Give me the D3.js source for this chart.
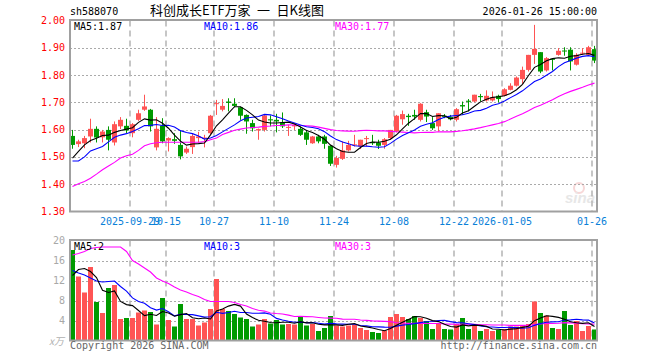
<!DOCTYPE html>
<html>
<head>
<meta charset="utf-8">
<script src="https://cdn.jsdelivr.net/npm/d3@7"></script>
<style>
  body { margin: 0; background: #fff; }
  text { font-family: "DejaVu Sans Mono", monospace; font-size: 10px; }
</style>
</head>
<body>
<script>
// trading days shown, 2025-09-15 .. 2026-01-26
const dates = [
  '2025-09-15','2025-09-16','2025-09-17','2025-09-18','2025-09-19','2025-09-22','2025-09-23','2025-09-24','2025-09-25','2025-09-26',
  '2025-09-29','2025-09-30','2025-10-09','2025-10-10','2025-10-13','2025-10-14','2025-10-15','2025-10-16','2025-10-17','2025-10-20',
  '2025-10-21','2025-10-22','2025-10-23','2025-10-24','2025-10-27','2025-10-28','2025-10-29','2025-10-30','2025-10-31','2025-11-03',
  '2025-11-04','2025-11-05','2025-11-06','2025-11-07','2025-11-10','2025-11-11','2025-11-12','2025-11-13','2025-11-14','2025-11-17',
  '2025-11-18','2025-11-19','2025-11-20','2025-11-21','2025-11-24','2025-11-25','2025-11-26','2025-11-27','2025-11-28','2025-12-01',
  '2025-12-02','2025-12-03','2025-12-04','2025-12-05','2025-12-08','2025-12-09','2025-12-10','2025-12-11','2025-12-12','2025-12-15',
  '2025-12-16','2025-12-17','2025-12-18','2025-12-19','2025-12-22','2025-12-23','2025-12-24','2025-12-25','2025-12-26','2025-12-29',
  '2025-12-30','2025-12-31','2026-01-05','2026-01-06','2026-01-07','2026-01-08','2026-01-09','2026-01-12','2026-01-13','2026-01-14',
  '2026-01-15','2026-01-16','2026-01-19','2026-01-20','2026-01-21','2026-01-22','2026-01-23','2026-01-26'
]
const open = [
  1.577,1.547,1.550,1.575,1.603,1.572,1.599,1.553,1.612,1.614,
  1.587,1.636,1.673,1.673,1.535,1.615,1.560,1.565,1.544,1.516,
  1.536,1.569,1.566,1.587,1.695,1.673,1.703,1.695,1.682,1.654,
  1.624,1.597,1.599,1.638,1.636,1.627,1.608,1.612,1.603,1.590,
  1.550,1.575,1.575,1.541,1.471,1.493,1.524,1.543,1.538,1.566,
  1.555,1.553,1.544,1.569,1.593,1.638,1.651,1.654,1.636,1.664,
  1.624,1.612,1.651,1.646,1.636,1.690,1.706,1.703,1.723,1.707,
  1.707,1.724,1.724,1.746,1.761,1.785,1.819,1.874,1.884,1.817,
  1.860,1.874,1.890,1.893,1.838,1.879,1.874,1.895
]
const high = [
  1.599,1.563,1.577,1.640,1.612,1.599,1.612,1.630,1.646,1.640,
  1.624,1.673,1.728,1.676,1.646,1.642,1.572,1.587,1.596,1.538,
  1.587,1.592,1.581,1.654,1.709,1.712,1.715,1.715,1.684,1.656,
  1.636,1.604,1.657,1.652,1.658,1.663,1.618,1.624,1.612,1.599,
  1.577,1.581,1.581,1.543,1.504,1.557,1.559,1.581,1.563,1.577,
  1.581,1.563,1.569,1.599,1.654,1.670,1.658,1.673,1.697,1.673,
  1.646,1.660,1.657,1.654,1.679,1.703,1.712,1.728,1.731,1.744,
  1.740,1.728,1.752,1.770,1.795,1.831,1.874,1.984,1.884,1.866,
  1.862,1.899,1.902,1.902,1.880,1.899,1.907,1.907
]
const low = [
  1.530,1.536,1.532,1.553,1.553,1.553,1.524,1.542,1.602,1.587,
  1.572,1.632,1.669,1.593,1.524,1.550,1.520,1.548,1.491,1.511,
  1.511,1.553,1.535,1.581,1.654,1.667,1.667,1.682,1.636,1.585,
  1.593,1.563,1.593,1.612,1.590,1.606,1.577,1.599,1.577,1.544,
  1.548,1.550,1.530,1.467,1.461,1.489,1.520,1.538,1.529,1.538,
  1.544,1.529,1.530,1.563,1.590,1.618,1.614,1.636,1.630,1.628,
  1.599,1.593,1.642,1.634,1.630,1.654,1.667,1.700,1.703,1.703,
  1.703,1.700,1.722,1.744,1.758,1.768,1.813,1.841,1.807,1.813,
  1.817,1.871,1.871,1.817,1.835,1.874,1.871,1.844
]
const close = [
  1.544,1.557,1.569,1.603,1.571,1.593,1.563,1.620,1.636,1.597,
  1.620,1.660,1.685,1.612,1.603,1.557,1.569,1.559,1.502,1.530,
  1.577,1.575,1.571,1.651,1.697,1.687,1.698,1.687,1.651,1.630,
  1.605,1.602,1.652,1.634,1.630,1.612,1.610,1.617,1.581,1.563,
  1.575,1.557,1.548,1.475,1.496,1.524,1.544,1.546,1.563,1.569,
  1.550,1.541,1.565,1.599,1.651,1.657,1.646,1.648,1.695,1.648,
  1.605,1.660,1.647,1.638,1.675,1.685,1.702,1.728,1.719,1.724,
  1.719,1.712,1.748,1.761,1.791,1.819,1.874,1.896,1.813,1.862,
  1.856,1.889,1.888,1.850,1.874,1.882,1.902,1.853
]
// volume, in 万 (10k) units
const volume = [
  18.1,12.8,9.6,14.7,7.7,5.5,10.5,11.1,4.3,4.5,
  4.5,5.6,6.0,5.7,3.2,8.5,4.1,2.8,7.3,4.3,
  4.3,3.0,3.6,6.3,12.3,6.3,5.9,5.3,4.6,4.3,
  2.8,3.2,4.3,3.4,4.1,3.2,3.3,3.2,4.9,3.0,
  3.3,1.9,2.5,4.9,3.0,2.8,3.0,3.2,2.5,2.1,
  1.7,1.5,2.0,4.7,5.3,4.7,4.3,4.9,4.5,3.9,
  2.3,3.3,2.3,2.2,3.3,4.5,2.3,3.1,1.9,2.3,
  1.9,2.1,2.3,2.8,2.8,3.1,3.3,7.8,5.5,5.0,
  2.5,2.3,5.9,3.1,3.9,1.9,2.9,2.2
]
// moving-average values before the window has enough days
const ma5Lead = [1.496, 1.520, 1.544, 1.560]
const ma10Lead = [1.485, 1.485, 1.500, 1.522, 1.530, 1.538, 1.555, 1.572, 1.580]
const ma30Lead = [
  1.392,1.402,1.410,1.422,1.437,1.453,1.467,1.480,1.496,1.504,
  1.510,1.524,1.541,1.548,1.552,1.554,1.554,1.554,1.554,1.554,
  1.554,1.554,1.556,1.563,1.569,1.582,1.590,1.598,1.602
]
const vma5Lead = [13.0, 14.2, 14.4, 13.8]
const vma10Lead = [14.0, 13.5, 13.1, 12.5, 11.9, 11.7, 11.8, 11.9, 10.8]
const vma30Lead = [
  17.1,17.4,17.8,18.4,18.6,18.7,18.7,18.7,18.7,17.8,
  16.0,15.3,14.5,13.7,12.5,11.9,11.4,10.7,10.1,9.7,
  9.2,8.8,8.2,7.8,7.8,7.8,7.8,7.6,7.2
]
const tickDates = ['2025-09-29','2025-10-15','2025-10-27','2025-11-10','2025-11-24','2025-12-08','2025-12-22','2026-01-05','2026-01-26']
const tickLabels = ['2025-09-29','10-15','10-27','11-10','11-24','12-08','12-22','2026-01-05','01-26']
const priceTicks = [1.30, 1.40, 1.50, 1.60, 1.70, 1.80, 1.90, 2.00]
const volTicks = [4, 8, 12, 16, 20]

const UP = '#ff5454', DOWN = '#009a00'
const candles = dates.map((d, i) => ({ date: d, o: open[i], h: high[i], l: low[i], c: close[i], v: volume[i] }))

function movingAvg(values, n, lead) {
    return values.map((v, i) => i < n - 1 ? lead[i] : d3.mean(values.slice(i - n + 1, i + 1)))
}
const ma5 = movingAvg(close, 5, ma5Lead)
const ma10 = movingAvg(close, 10, ma10Lead)
const ma30 = movingAvg(close, 30, ma30Lead)
const vma5 = movingAvg(volume, 5, vma5Lead)
const vma10 = movingAvg(volume, 10, vma10Lead)
const vma30 = movingAvg(volume, 30, vma30Lead)

const left = 70, right = 597
const svg = d3.select('body').append('svg')
    .attr('width', 660)
    .attr('height', 360)

const x = d3.scaleBand()
    .domain(dates)
    .range([left, left + 6 * dates.length])
    .padding(0)
const y = d3.scaleLinear().domain([1.3, 2.0]).range([211.5, 20.5])
const yv = d3.scaleLinear().domain([0, 20]).range([340.5, 240.5])

// header texts
svg.append('text').attr('x', left).attr('y', 15).text('sh588070')
svg.append('text').attr('x', 237).attr('y', 15)
    .style('font-family', '"Noto Sans CJK SC", sans-serif')
    .style('font-size', '13px')
    .style('text-anchor', 'middle')
    .style('white-space', 'pre')
    .text('科创成长ETF万家\u2002一\u2002日K线图')
svg.append('text').attr('x', right).attr('y', 15)
    .style('text-anchor', 'end')
    .text('2026-01-26 15:00:00')

// watermark
const wm = svg.append('g').attr('opacity', 0.5)
wm.append('circle').attr('cx', 579).attr('cy', 188).attr('r', 5)
    .style('fill', 'none').style('stroke', '#f0b0b0').style('stroke-width', 2)
wm.append('text').attr('x', 565).attr('y', 203)
    .style('font-family', 'Arial, sans-serif').style('font-size', '15px')
    .style('font-weight', 'bold').style('font-style', 'italic')
    .style('fill', '#d0d0d0').text('sina')

function panel(scale, ticks, top, bottom, labelColor, fmt) {
    const g = svg.append('g')
    g.selectAll('.hgrid')
        .data(ticks.filter(t => scale(t) > top + 1 && scale(t) < bottom - 1))
        .enter().append('line')
        .attr('x1', left).attr('x2', right)
        .attr('y1', d => Math.round(scale(d)) + 0.5).attr('y2', d => Math.round(scale(d)) + 0.5)
        .style('stroke', '#aaa').style('stroke-dasharray', '2,2')
    g.selectAll('.vgrid')
        .data(tickDates)
        .enter().append('line')
        .attr('x1', d => x(d)).attr('x2', d => x(d))
        .attr('y1', top).attr('y2', bottom)
        .style('stroke', '#b4b4b4').style('stroke-width', 1.5).style('stroke-dasharray', '6,4')
    g.selectAll('.ylab')
        .data(ticks)
        .enter().append('text')
        .attr('x', 65).attr('y', d => scale(d))
        .attr('dy', '0.35em')
        .style('text-anchor', 'end')
        .style('fill', labelColor)
        .text(fmt)
    return g
}

panel(y, priceTicks, 20.5, 211.5, '#ff0000', d => d.toFixed(2))
panel(yv, volTicks, 240.5, 340.5, '#a8a8a8', d => d)

// date labels
svg.selectAll('.xlab')
    .data(tickDates)
    .enter().append('text')
    .attr('x', d => x(d)).attr('y', 225)
    .style('text-anchor', 'middle')
    .style('fill', '#0a80d8')
    .text((d, i) => tickLabels[i])

// candles
const cg = svg.append('g')
cg.selectAll('.wick')
    .data(candles)
    .enter().append('rect')
    .attr('x', d => x(d.date) + 2)
    .attr('width', 1)
    .attr('y', d => y(d.h))
    .attr('height', d => Math.max(1, y(d.l) - y(d.h)))
    .style('fill', d => d.c >= d.o ? UP : DOWN)
cg.selectAll('.body')
    .data(candles)
    .enter().append('rect')
    .attr('x', d => x(d.date))
    .attr('width', x.bandwidth() - 1)
    .attr('y', d => y(Math.max(d.o, d.c)))
    .attr('height', d => Math.max(1, Math.abs(y(d.o) - y(d.c))))
    .style('fill', d => d.c >= d.o ? UP : DOWN)

// volume bars
svg.append('g').selectAll('rect')
    .data(candles)
    .enter().append('rect')
    .attr('x', d => x(d.date))
    .attr('width', x.bandwidth() - 1)
    .attr('y', d => yv(d.v))
    .attr('height', d => yv(0) - yv(d.v))
    .style('fill', d => d.c >= d.o ? UP : DOWN)

function maLine(values, scale, color) {
    const line = d3.line()
        .x((d, i) => x(dates[i]) + 2.5)
        .y(d => scale(d))
    svg.append('path')
        .datum(values)
        .attr('d', line)
        .style('fill', 'none')
        .style('stroke', color)
        .style('stroke-width', 1.1)
}
maLine(ma30, y, '#ff00ff')
maLine(ma10, y, '#0000ff')
maLine(ma5, y, '#000000')
maLine(vma30, yv, '#ff00ff')
maLine(vma10, yv, '#0000ff')
maLine(vma5, yv, '#000000')

// borders
svg.append('rect').attr('x', left).attr('y', 20).attr('width', right - left).attr('height', 191.5)
    .style('fill', 'none').style('stroke', '#a0a0a0').style('stroke-width', 2)
svg.append('rect').attr('x', left).attr('y', 240).attr('width', right - left).attr('height', 100.5)
    .style('fill', 'none').style('stroke', '#a0a0a0').style('stroke-width', 2)

// legends
const legends = [
    { x: 74, y: 30, color: '#000', text: 'MA5:1.87' },
    { x: 204, y: 30, color: '#0000ff', text: 'MA10:1.86' },
    { x: 335, y: 30, color: '#ff00ff', text: 'MA30:1.77' },
    { x: 74, y: 250, color: '#000', text: 'MA5:2' },
    { x: 204, y: 250, color: '#0000ff', text: 'MA10:3' },
    { x: 335, y: 250, color: '#ff00ff', text: 'MA30:3' }
]
svg.selectAll('.legend')
    .data(legends)
    .enter().append('text')
    .attr('x', d => d.x).attr('y', d => d.y)
    .style('fill', d => d.color)
    .text(d => d.text)

// footer
svg.append('text').attr('x', 64).attr('y', 345)
    .style('text-anchor', 'end')
    .style('font-family', '"Noto Sans CJK SC", sans-serif')
    .style('font-size', '10px')
    .style('font-style', 'italic')
    .style('fill', '#b0b0b0')
    .text('x万')
svg.append('text').attr('x', left).attr('y', 349)
    .style('fill', '#666').text('Copyright 2026 SINA.COM')
svg.append('text').attr('x', right).attr('y', 349)
    .style('text-anchor', 'end')
    .style('fill', '#666').text('http://finance.sina.com.cn')
</script>
</body>
</html>
